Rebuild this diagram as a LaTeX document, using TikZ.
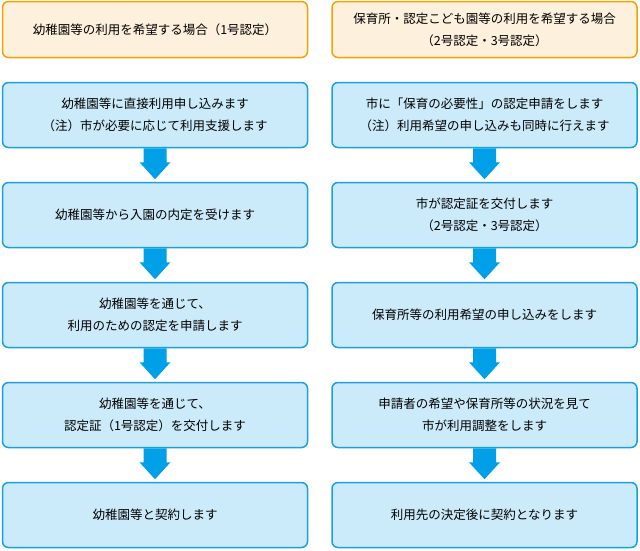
\documentclass[tikz,border=0pt]{standalone}
\usepackage{fontspec}
\setmainfont{Noto Sans CJK JP}
\definecolor{bfill}{HTML}{CCEBFA}
\definecolor{bline}{HTML}{1AA0E0}
\definecolor{ofill}{HTML}{FDF0DC}
\definecolor{oline}{HTML}{F5A200}
\definecolor{arr}{HTML}{00A0E9}
\begin{document}
\begin{tikzpicture}[x=1pt,y=-1pt,
 box/.style={draw=bline,fill=bfill,line width=1.5pt,rounded corners=6pt,minimum width=305pt,minimum height=65pt,align=center,font=\fontsize{12.5}{22}\selectfont},
 hbox/.style={box,draw=oline,fill=ofill,minimum height=56pt},
 barrow/.style={fill=arr,draw=none}]
\path[use as bounding box] (0,0) rectangle (640,550);
\node[hbox] (h1) at (155,29.5) {幼稚園等の利用を希望する場合（1号認定）};
\node[hbox] (h2) at (484.5,29.5) {保育所・認定こども園等の利用を希望する場合\\（2号認定・3号認定）};
\node[box] (a1) at (155,115) {幼稚園等に直接利用申し込みます\\（注）市が必要に応じて利用支援します};
\node[box] (a2) at (155,215) {幼稚園等から入園の内定を受けます};
\node[box] (a3) at (155,315) {幼稚園等を通じて、\\利用のための認定を申請します};
\node[box] (a4) at (155,415) {幼稚園等を通じて、\\認定証（1号認定）を交付します};
\node[box] (a5) at (155,515) {幼稚園等と契約します};
\node[box] (b1) at (484.5,115) {市に「保育の必要性」の認定申請をします\\（注）利用希望の申し込みも同時に行えます};
\node[box] (b2) at (484.5,215) {市が認定証を交付します\\（2号認定・3号認定）};
\node[box] (b3) at (484.5,315) {保育所等の利用希望の申し込みをします};
\node[box] (b4) at (484.5,415) {申請者の希望や保育所等の状況を見て\\市が利用調整をします};
\node[box] (b5) at (484.5,515) {利用先の決定後に契約となります};
\foreach \p/\q in {a1/a2,a2/a3,a3/a4,a4/a5,b1/b2,b2/b3,b3/b4,b4/b5}{
 \path[barrow,shift={(\p.south)}] (-11.5,0) -- (-11.5,14) -- (-15.5,14) -- (0,31) -- (15.5,14) -- (11.5,14) -- (11.5,0) -- cycle;
}
\end{tikzpicture}
\end{document}
